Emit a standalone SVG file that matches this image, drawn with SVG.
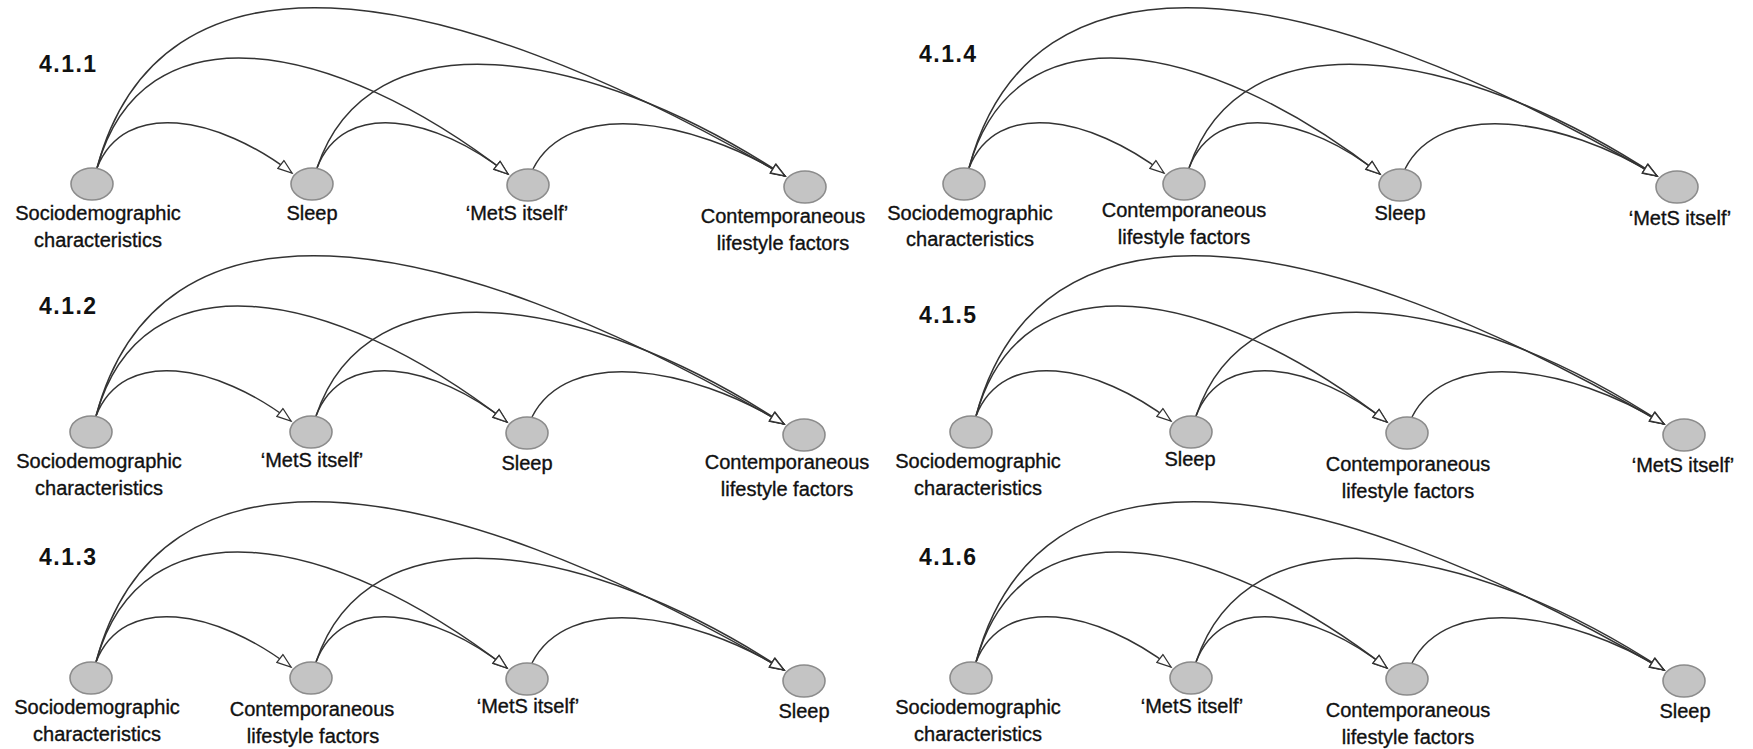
<svg xmlns="http://www.w3.org/2000/svg" xmlns:xlink="http://www.w3.org/1999/xlink" width="1753" height="749" viewBox="0 0 1753 749">
  <style>
    .arc { fill: none; stroke: #333; stroke-width: 1.5; marker-end: url(#open-arrow); }
    .node { fill: #c4c4c4; stroke: #8c8c8c; stroke-width: 1.6; }
    .lbl { font-family: "Liberation Sans", Arial, sans-serif; font-size: 20px; fill: #111; stroke: #111; stroke-width: 0.35; text-anchor: middle; }
    .title { font-family: "Liberation Sans", Arial, sans-serif; font-size: 23px; font-weight: bold; fill: #111; letter-spacing: 1.5px; }
  </style>
  <defs>
    <marker id="open-arrow" markerUnits="userSpaceOnUse" markerWidth="18" markerHeight="14" refX="15" refY="6" orient="auto">
      <path d="M1,1 L15,6 L1,11 Z" fill="#fff" stroke="#333" stroke-width="1.3" stroke-linejoin="miter"/>
    </marker>
    <!-- six forward arcs between four nodes placed at (0,0) (220,0) (436,1) (713,3) -->
    <g id="arcs">
      <path class="arc" d="M5,-16 C32.3,-85.8 125.9,-67.8 200,-11"/>
      <path class="arc" d="M5,-16 C50.2,-179.5 239.3,-146.8 416,-10"/>
      <path class="arc" d="M5,-16 C66.9,-246.6 337.3,-214.8 693,-8"/>
      <path class="arc" d="M225,-16 C251.7,-85.8 343.4,-67.8 416,-10"/>
      <path class="arc" d="M225,-16 C276.5,-170.5 491.8,-139.6 693,-8"/>
      <path class="arc" d="M441,-15 C476.3,-84.8 597.2,-66.8 693,-8"/>
    </g>
  </defs>

  <rect width="1753" height="749" fill="#fff"/>

  <g id="titles">
    <text class="title" x="39" y="72">4.1.1</text>
    <text class="title" x="919" y="62">4.1.4</text>
    <text class="title" x="39" y="314">4.1.2</text>
    <text class="title" x="919" y="323">4.1.5</text>
    <text class="title" x="39" y="565">4.1.3</text>
    <text class="title" x="919" y="565">4.1.6</text>
  </g>

  <g id="connectors">
    <use href="#arcs" xlink:href="#arcs" transform="translate(92,184)"/>
    <use href="#arcs" xlink:href="#arcs" transform="translate(964,184)"/>
    <use href="#arcs" xlink:href="#arcs" transform="translate(91,432)"/>
    <use href="#arcs" xlink:href="#arcs" transform="translate(971,432)"/>
    <use href="#arcs" xlink:href="#arcs" transform="translate(91,678)"/>
    <use href="#arcs" xlink:href="#arcs" transform="translate(971,678)"/>
  </g>

  <!-- 4.1.1 -->
  <g id="p411" transform="translate(92,184)">
    <g id="p411-socio"><ellipse class="node" cx="0" cy="0" rx="21" ry="16"/><text class="lbl" x="6" y="36">Sociodemographic</text><text class="lbl" x="6" y="63">characteristics</text></g>
    <g id="p411-sleep"><ellipse class="node" cx="220" cy="0" rx="21" ry="16"/><text class="lbl" x="220" y="36">Sleep</text></g>
    <g id="p411-mets"><ellipse class="node" cx="436" cy="1" rx="21" ry="16"/><text class="lbl" x="425" y="36">‘MetS itself’</text></g>
    <g id="p411-life"><ellipse class="node" cx="713" cy="3" rx="21" ry="16"/><text class="lbl" x="691" y="39">Contemporaneous</text><text class="lbl" x="691" y="66">lifestyle factors</text></g>
  </g>

  <!-- 4.1.4 -->
  <g id="p414" transform="translate(964,184)">
    <g id="p414-socio"><ellipse class="node" cx="0" cy="0" rx="21" ry="16"/><text class="lbl" x="6" y="36">Sociodemographic</text><text class="lbl" x="6" y="62">characteristics</text></g>
    <g id="p414-life"><ellipse class="node" cx="220" cy="0" rx="21" ry="16"/><text class="lbl" x="220" y="33">Contemporaneous</text><text class="lbl" x="220" y="60">lifestyle factors</text></g>
    <g id="p414-sleep"><ellipse class="node" cx="436" cy="1" rx="21" ry="16"/><text class="lbl" x="436" y="36">Sleep</text></g>
    <g id="p414-mets"><ellipse class="node" cx="713" cy="3" rx="21" ry="16"/><text class="lbl" x="716" y="41">‘MetS itself’</text></g>
  </g>

  <!-- 4.1.2 -->
  <g id="p412" transform="translate(91,432)">
    <g id="p412-socio"><ellipse class="node" cx="0" cy="0" rx="21" ry="16"/><text class="lbl" x="8" y="36">Sociodemographic</text><text class="lbl" x="8" y="63">characteristics</text></g>
    <g id="p412-mets"><ellipse class="node" cx="220" cy="0" rx="21" ry="16"/><text class="lbl" x="221" y="35">‘MetS itself’</text></g>
    <g id="p412-sleep"><ellipse class="node" cx="436" cy="1" rx="21" ry="16"/><text class="lbl" x="436" y="38">Sleep</text></g>
    <g id="p412-life"><ellipse class="node" cx="713" cy="3" rx="21" ry="16"/><text class="lbl" x="696" y="37">Contemporaneous</text><text class="lbl" x="696" y="64">lifestyle factors</text></g>
  </g>

  <!-- 4.1.5 -->
  <g id="p415" transform="translate(971,432)">
    <g id="p415-socio"><ellipse class="node" cx="0" cy="0" rx="21" ry="16"/><text class="lbl" x="7" y="36">Sociodemographic</text><text class="lbl" x="7" y="63">characteristics</text></g>
    <g id="p415-sleep"><ellipse class="node" cx="220" cy="0" rx="21" ry="16"/><text class="lbl" x="219" y="34">Sleep</text></g>
    <g id="p415-life"><ellipse class="node" cx="436" cy="1" rx="21" ry="16"/><text class="lbl" x="437" y="39">Contemporaneous</text><text class="lbl" x="437" y="66">lifestyle factors</text></g>
    <g id="p415-mets"><ellipse class="node" cx="713" cy="3" rx="21" ry="16"/><text class="lbl" x="712" y="40">‘MetS itself’</text></g>
  </g>

  <!-- 4.1.3 -->
  <g id="p413" transform="translate(91,678)">
    <g id="p413-socio"><ellipse class="node" cx="0" cy="0" rx="21" ry="16"/><text class="lbl" x="6" y="36">Sociodemographic</text><text class="lbl" x="6" y="63">characteristics</text></g>
    <g id="p413-life"><ellipse class="node" cx="220" cy="0" rx="21" ry="16"/><text class="lbl" x="221" y="38">Contemporaneous</text><text class="lbl" x="222" y="65">lifestyle factors</text></g>
    <g id="p413-mets"><ellipse class="node" cx="436" cy="1" rx="21" ry="16"/><text class="lbl" x="437" y="35">‘MetS itself’</text></g>
    <g id="p413-sleep"><ellipse class="node" cx="713" cy="3" rx="21" ry="16"/><text class="lbl" x="713" y="40">Sleep</text></g>
  </g>

  <!-- 4.1.6 -->
  <g id="p416" transform="translate(971,678)">
    <g id="p416-socio"><ellipse class="node" cx="0" cy="0" rx="21" ry="16"/><text class="lbl" x="7" y="36">Sociodemographic</text><text class="lbl" x="7" y="63">characteristics</text></g>
    <g id="p416-mets"><ellipse class="node" cx="220" cy="0" rx="21" ry="16"/><text class="lbl" x="221" y="35">‘MetS itself’</text></g>
    <g id="p416-life"><ellipse class="node" cx="436" cy="1" rx="21" ry="16"/><text class="lbl" x="437" y="39">Contemporaneous</text><text class="lbl" x="437" y="66">lifestyle factors</text></g>
    <g id="p416-sleep"><ellipse class="node" cx="713" cy="3" rx="21" ry="16"/><text class="lbl" x="714" y="40">Sleep</text></g>
  </g>
</svg>
